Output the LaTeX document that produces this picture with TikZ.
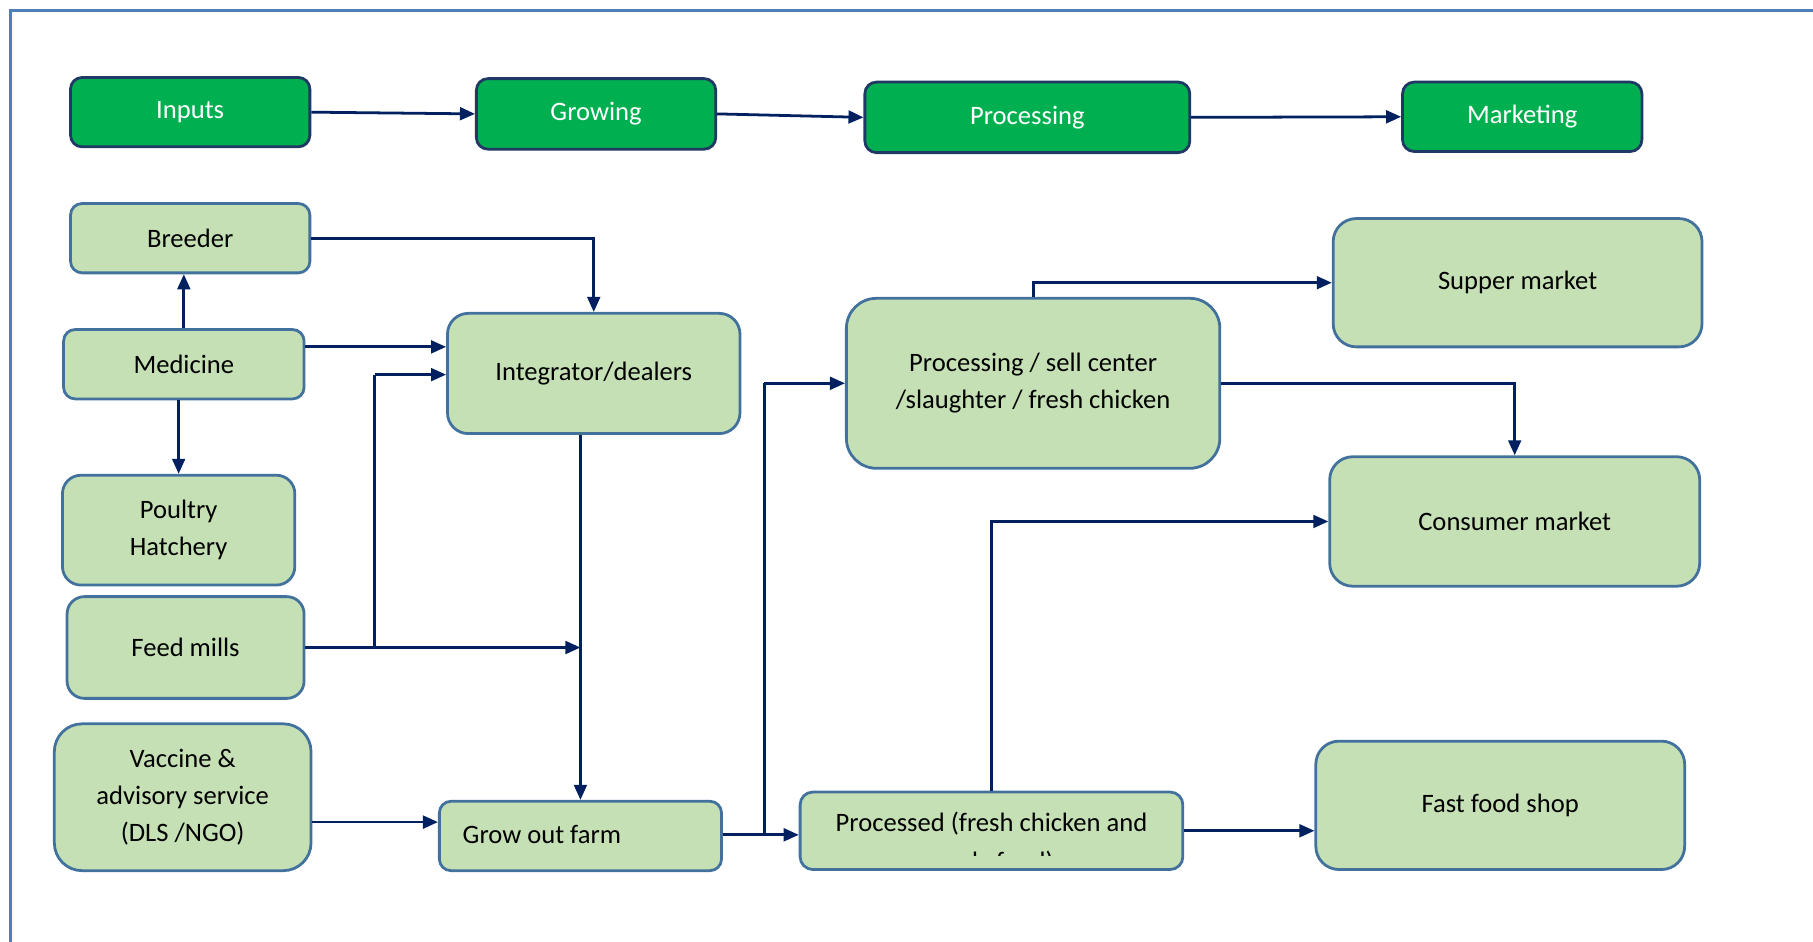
\documentclass[tikz,border=0pt]{standalone}
\usepackage{fontspec}
\setmainfont{Carlito}
\usetikzlibrary{arrows.meta}
\definecolor{dkgreen}{HTML}{00B050}
\definecolor{dkborder}{HTML}{1F3864}
\definecolor{ltgreen}{HTML}{C5E0B4}
\definecolor{ltborder}{HTML}{41719C}
\definecolor{navy}{HTML}{002060}
\definecolor{framecol}{HTML}{4F7FB5}
\tikzset{
  gbox/.style={draw=dkborder, line width=2.4pt, fill=dkgreen, text=white, inner sep=0pt, rounded corners=10pt, font=\fontsize{23}{32}\selectfont, align=center},
  lbox/.style={draw=ltborder, line width=2.4pt, fill=ltgreen, text=black, inner sep=0pt, font=\fontsize{23}{32}\selectfont, align=center},
  txt/.style={inner sep=0pt, font=\fontsize{23}{32}\selectfont, text=black},
  arr/.style={draw=navy, line width=2.4pt, -{Triangle[length=13pt,width=11pt]}},
  ln/.style={draw=navy, line width=2.4pt}
}
\begin{document}
\begin{tikzpicture}[x=1pt,y=-1pt]
\useasboundingbox (0,0) rectangle (1568,814);
% frame
\draw[framecol, line width=2pt] (9,830) -- (9,9) -- (1580,9);

% stage boxes
\node[gbox, minimum width=207pt, minimum height=60pt] (inputs) at (164.5,97) {Inputs};
\node[gbox, minimum width=207pt, minimum height=61pt] (growing) at (515.5,98.5) {Growing};
\node[gbox, minimum width=281pt, minimum height=61pt] (processing) at (888.5,101.5) {Processing};
\node[gbox, minimum width=207pt, minimum height=60pt] (marketing) at (1316.5,101) {Marketing};

% left column
\node[lbox, minimum width=207pt, minimum height=60pt, rounded corners=10pt] (breeder) at (164.5,206) {Breeder};
\node[lbox, minimum width=208pt, minimum height=60pt, rounded corners=10pt] (medicine) at (159,315) {Medicine};
\node[lbox, minimum width=201pt, minimum height=95pt, rounded corners=16pt] (hatchery) at (154.5,458.5) {Poultry\\Hatchery};
\node[lbox, minimum width=205pt, minimum height=88pt, rounded corners=15pt] (feed) at (160.5,560) {Feed mills};
\node[lbox, minimum width=222pt, minimum height=127pt, rounded corners=24pt] (vaccine) at (158,689.5) {Vaccine \&\\advisory service\\(DLS /NGO)};

% middle
\node[lbox, minimum width=253pt, minimum height=104pt, rounded corners=18pt] (integ) at (513.5,323) {Integrator/dealers};
\node[lbox, minimum width=244pt, minimum height=60pt, rounded corners=10pt] (growout) at (502,723) {};
\node[txt, anchor=west] (growtxt) at (400,722) {Grow out farm};
\node[lbox, minimum width=323pt, minimum height=147pt, rounded corners=26pt] (procsell) at (893.5,331.5) {Processing / sell center\\/slaughter / fresh chicken};
\node[lbox, minimum width=331pt, minimum height=67pt, rounded corners=11pt] (processed) at (857.5,718.5) {};
\node[txt, anchor=base] (proctxt) at (857.5,719) {Processed (fresh chicken and};
\begin{scope}
  \clip (700,700) rectangle (1015,740);
  \node[txt, anchor=base] (proctxtb) at (857.5,753) {ready food)};
\end{scope}

% right column
\node[lbox, minimum width=319pt, minimum height=111pt, rounded corners=20pt] (supper) at (1312.5,244.5) {Supper market};
\node[lbox, minimum width=320pt, minimum height=112pt, rounded corners=20pt] (consumer) at (1310,451) {Consumer market};
\node[lbox, minimum width=319pt, minimum height=111pt, rounded corners=20pt] (fastfood) at (1297.5,696.5) {Fast food shop};

% helper coordinates
\coordinate (y300) at (0,300);
\coordinate (y324) at (0,324);
\coordinate (x324) at (324,0);
\coordinate (y711) at (0,711);
\coordinate (y722) at (0,722);
\coordinate (x661) at (661,0);

% top connectors
\draw[arr] (inputs.east) -- (growing.west);
\draw[arr] (growing.east) -- (processing.west);
\draw[arr] (processing.east) -- (marketing.west);

% left connectors
\draw[arr] (breeder.east) -| (integ.north);
\draw[arr] (medicine.north -| breeder.south) ++(-5.5,0) coordinate (mtop) -- (mtop |- breeder.south);
\draw[arr] (medicine.east |- y300) -- (integ.west |- y300);
\draw[arr] (medicine.south -| hatchery.north) -- (hatchery.north);
\draw[arr] (feed.east) -- (growout.north |- feed.east);
\draw[ln] (x324 |- feed.east) -- (x324 |- y324);
\draw[arr] (x324 |- y324) -- (integ.west |- y324);
\draw[arr] (integ.south -| growout.north) -- (growout.north);
\draw[arr] (vaccine.east |- y711) -- (growout.west |- y711);

% right connectors
\draw[arr] (growout.east |- y722) -- (processed.west |- y722);
\draw[ln] (x661 |- y722) -- (x661 |- procsell.west);
\draw[arr] (x661 |- procsell.west) -- (procsell.west);
\draw[arr] (procsell.north) |- (supper.west);
\draw[arr] (procsell.east) -| (consumer.north);
\draw[arr] (processed.north) |- (consumer.west);
\draw[arr] (processed.east) -- (processed.east -| fastfood.west);
\end{tikzpicture}
\end{document}
